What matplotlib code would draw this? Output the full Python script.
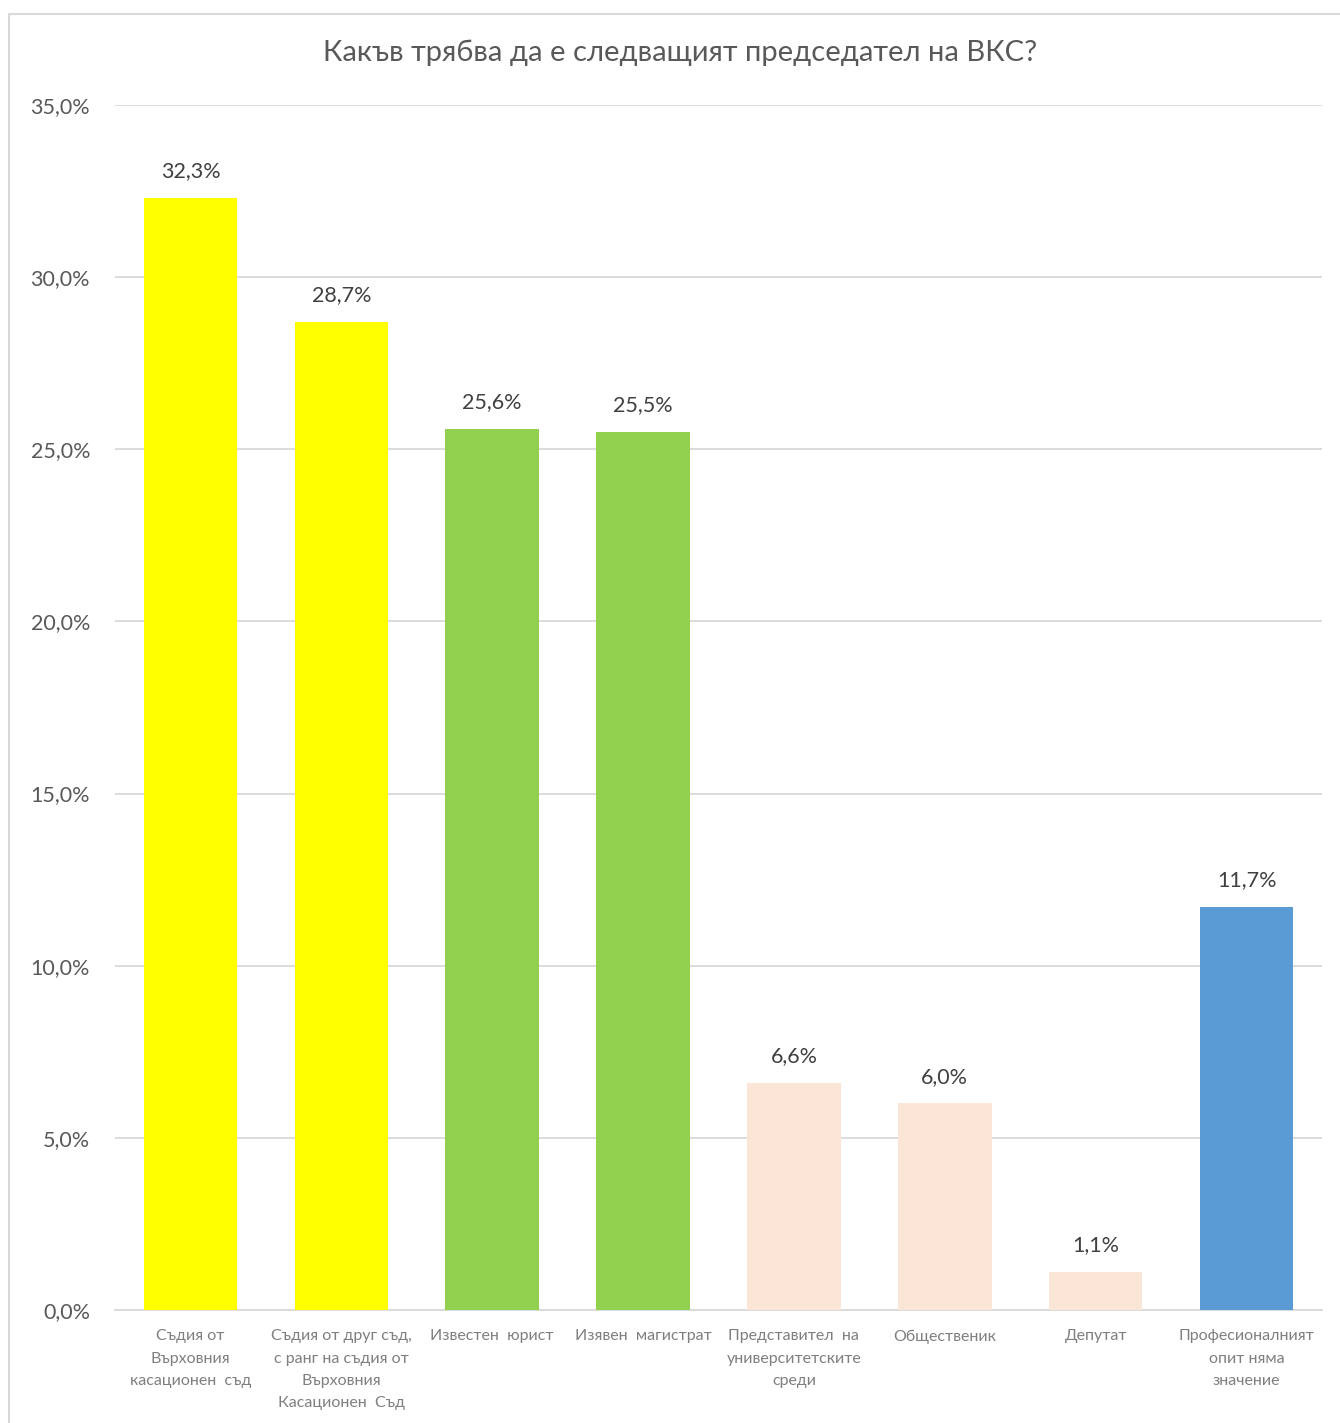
import matplotlib
matplotlib.use("Agg")
import matplotlib.pyplot as plt
from matplotlib.patches import Rectangle

categories = [
    "Съдия от\nВърховния\nкасационен  съд",
    "Съдия от друг съд,\nс ранг на съдия от\nВърховния\nКасационен  Съд",
    "Известен  юрист",
    "Изявен  магистрат",
    "Представител  на\nуниверситетските\nсреди",
    "Общественик",
    "Депутат",
    "Професионалният\nопит няма\nзначение",
]
values = [32.3, 28.7, 25.6, 25.5, 6.6, 6.0, 1.1, 11.7]
colors = ["#FFFF00", "#FFFF00", "#92D050", "#92D050",
          "#FBE5D6", "#FBE5D6", "#FBE5D6", "#5B9BD5"]
yticks = [0, 5, 10, 15, 20, 25, 30, 35]
title = "Какъв трябва да е следващият председател на ВКС?"

plt.rcParams['font.family'] = ['Lato', 'DejaVu Sans']

W, H = 1340, 1423
fig = plt.figure(figsize=(W / 100, H / 100), dpi=100)
fig.patches.append(Rectangle((9 / W, -0.1), 1.2, 1.1 - 14 / H, transform=fig.transFigure,
                             fill=False, edgecolor="#d9d9d9", linewidth=1.5))

ax = fig.add_axes([115 / W, 113 / H, (1322 - 115) / W, (1310 - 105) / H])
x = list(range(len(categories)))
bars = ax.bar(x, values, width=0.62, color=colors, zorder=3)
ax.set_xlim(-0.5, len(categories) - 0.5)
ax.set_ylim(0, 35)
ax.set_yticks(yticks)
ax.set_yticklabels([f"{v:.1f}%".replace(".", ",") for v in yticks],
                   fontsize=15.5, color="#595959")
ax.set_xticks(x)
ax.set_xticklabels(categories, fontsize=11.5, color="#7f7f7f", linespacing=1.75,
                   va="top")
ax.tick_params(axis="both", length=0)
ax.tick_params(axis="y", pad=18)
ax.tick_params(axis="x", pad=14)
ax.grid(axis="y", color="#d9d9d9", linewidth=1.3, zorder=0)
for s in ["top", "right", "left"]:
    ax.spines[s].set_visible(False)
ax.spines["bottom"].set_color("#d9d9d9")
ax.spines["bottom"].set_linewidth(1.3)

for xi, v in zip(x, values):
    ax.annotate(f"{v:.1f}%".replace(".", ","), (xi, v), xytext=(0, 12),
                textcoords="offset points", ha="center", va="bottom",
                fontsize=15.5, color="#404040")

fig.text(680 / W, 1 - 53 / H, title, ha="center", va="center",
         fontsize=21, color="#595959")

fig.savefig("out.png", dpi=100, facecolor="white")
